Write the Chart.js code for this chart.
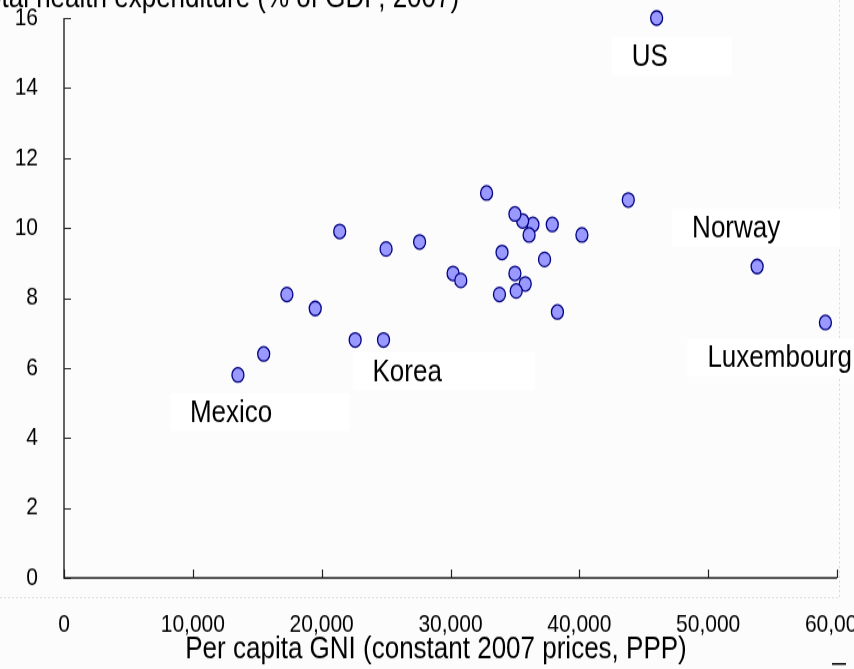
<!DOCTYPE html>
<html>
<head>
<meta charset="utf-8">
<script src="https://cdn.jsdelivr.net/npm/chart.js@4.4.1/dist/chart.umd.min.js"></script>
<style>
  html, body { margin: 0; padding: 0; background: #fcfcfc; }
  /* the original picture is stretched ~1.2x vertically, so draw at 854x558 and stretch */
  #chart { display: block; width: 854px !important; height: 669px !important; }
</style>
</head>
<body>
<canvas id="chart" width="854" height="558" style="width:854px;height:669px"></canvas>
<script>
// Data
const gniPerCapita = [46000, 43800, 40200, 37900, 36400, 35600, 35000, 32800, 36100, 27600,
    34000, 37300, 30200, 30800, 35000, 35800, 35100, 33800, 38300, 21400,
    25000, 17300, 19500, 22600, 24800, 15500, 13500, 53800, 59100];
const healthSpending = [16.0, 10.8, 9.8, 10.1, 10.1, 10.2, 10.4, 11.0, 9.8, 9.6,
    9.3, 9.1, 8.7, 8.5, 8.7, 8.4, 8.2, 8.1, 7.6, 9.9,
    9.4, 8.1, 7.7, 6.8, 6.8, 6.4, 5.8, 8.9, 7.3];
const countryNames = ['US', '', '', '', '', '', '', '', '', '',
    '', '', '', '', '', '', '', '', '', '',
    '', '', '', '', 'Korea', '', 'Mexico', 'Norway', 'Luxembourg'];
const xTickValues = [0, 10000, 20000, 30000, 40000, 50000, 60000];
const yTickValues = [0, 2, 4, 6, 8, 10, 12, 14, 16];
const yTitle = 'Total health expenditure (% of GDP, 2007)';
const xTitle = 'Per capita GNI (constant 2007 prices, PPP)';

// Styles
const FONT = "'Liberation Sans', Arial, sans-serif";
const labelStyle = {
    'US': { dx: -25, dy: 32, w: 120 },
    'Norway': { dx: -65, dy: -32, w: 168 },
    'Luxembourg': { dx: -118, dy: 29, w: 170 },
    'Korea': { dx: -11, dy: 26, w: 182 },
    'Mexico': { dx: -48, dy: 31, w: 180 }
};

const framePlugin = {
    id: 'frame',
    beforeDraw(chart) {
        const ctx = chart.ctx;
        ctx.save();
        ctx.fillStyle = '#fcfcfc';
        ctx.fillRect(0, 0, chart.width, chart.height);
        // faint dotted frame of the embedded picture
        ctx.strokeStyle = '#dcdcdc';
        ctx.lineWidth = 1;
        ctx.setLineDash([2, 2]);
        ctx.beginPath();
        ctx.moveTo(0, 498.5);
        ctx.lineTo(839, 498.5);
        ctx.moveTo(839.5, 0);
        ctx.lineTo(839.5, 499);
        ctx.stroke();
        ctx.restore();
    },
    beforeDatasetsDraw(chart) {
        const ctx = chart.ctx;
        const { x, y } = chart.scales;
        ctx.save();
        // axis lines
        ctx.strokeStyle = '#222';
        ctx.lineWidth = 1.4;
        ctx.beginPath();
        ctx.moveTo(x.left, y.top);
        ctx.lineTo(x.left, y.bottom);
        ctx.lineTo(x.right, y.bottom);
        ctx.stroke();
        // inner tick marks
        ctx.lineWidth = 1.2;
        ctx.beginPath();
        yTickValues.forEach(v => {
            const py = Math.round(y.getPixelForValue(v)) + 0.5;
            ctx.moveTo(x.left, py);
            ctx.lineTo(x.left + 7, py);
        });
        xTickValues.forEach(v => {
            const px = Math.round(x.getPixelForValue(v)) + 0.5;
            ctx.moveTo(px, y.bottom);
            ctx.lineTo(px, y.bottom - 7);
        });
        ctx.stroke();

        // country label boxes
        ctx.font = '26px ' + FONT;
        ctx.textBaseline = 'middle';
        ctx.textAlign = 'left';
        countryNames.forEach((name, i) => {
            if (!name) return;
            const s = labelStyle[name];
            const px = x.getPixelForValue(gniPerCapita[i]);
            const py = y.getPixelForValue(healthSpending[i]);
            const tx = px + s.dx;
            const ty = py + s.dy;
            ctx.fillStyle = '#ffffff';
            ctx.fillRect(tx - 20, ty - 16, s.w, 32);
            ctx.fillStyle = '#000';
            ctx.fillText(name, tx, ty + 1);
        });

        // axis titles
        ctx.fillStyle = '#000';
        ctx.textBaseline = 'alphabetic';
        ctx.textAlign = 'left';
        ctx.fillText(yTitle, -26, 6);
        ctx.textBaseline = 'middle';
        ctx.textAlign = 'center';
        ctx.fillText(xTitle, 436, 542);
        // stray mark at the bottom right
        ctx.fillRect(832, 553, 14, 1.5);
        ctx.restore();
    }
};

const ctx = document.getElementById('chart').getContext('2d');

new Chart(ctx, {
    type: 'scatter',
    data: {
        datasets: [{
            label: 'OECD countries',
            data: gniPerCapita.map((v, i) => ({ x: v, y: healthSpending[i] })),
            pointStyle: 'circle',
            pointRadius: 6,
            borderWidth: 1.3,
            backgroundColor: '#9999ff',
            borderColor: '#000080',
            clip: false
        }]
    },
    options: {
        responsive: false,
        devicePixelRatio: 1,
        animation: false,
        layout: { padding: { top: 15, right: 17, left: 0, bottom: 0 } },
        plugins: {
            legend: { display: false },
            tooltip: { enabled: false }
        },
        scales: {
            x: {
                type: 'linear',
                min: 0,
                max: 60000,
                border: { display: false },
                grid: { display: false, drawTicks: false },
                ticks: {
                    stepSize: 10000,
                    padding: 27,
                    maxRotation: 0,
                    autoSkip: false,
                    color: '#000',
                    font: { family: FONT, size: 21 }
                },
                afterFit: (scale) => {
                    scale.height = 76;
                    scale.paddingLeft = 0;
                    scale.paddingRight = 0;
                }
            },
            y: {
                min: 0,
                max: 16,
                border: { display: false },
                grid: { display: false, drawTicks: false },
                ticks: {
                    stepSize: 2,
                    padding: 26,
                    color: '#000',
                    font: { family: FONT, size: 21 }
                },
                afterFit: (scale) => {
                    scale.width = 64;
                    scale.paddingTop = 0;
                    scale.paddingBottom = 0;
                }
            }
        }
    },
    plugins: [framePlugin]
});
</script>
</body>
</html>
